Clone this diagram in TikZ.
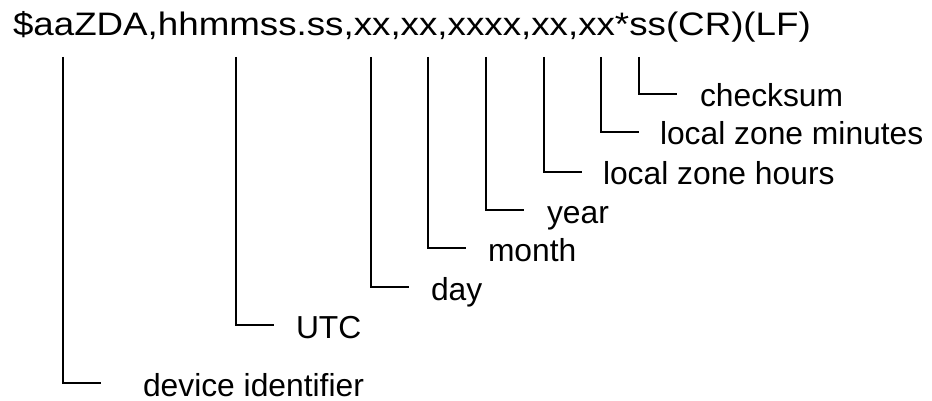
\documentclass[tikz,border=0pt]{standalone}
\usepackage{fontspec}
\setmainfont{Liberation Sans}
\newfontfamily\titlefont[FakeStretch=1.13]{Liberation Sans}
\begin{document}
\begin{tikzpicture}[x=1pt,y=-1pt,line width=2pt,
    lbl/.style={anchor=west,inner sep=0pt,text height=26pt,text depth=0pt,
      font=\fontsize{31.8}{38}\selectfont}]
    \useasboundingbox (0,0) rectangle (932,401);
    \node[anchor=base west,inner sep=0pt,font=\titlefont\fontsize{32.5}{39}\selectfont]
      (sentence) at (12,36) {\$aaZDA,hhmmss.ss,xx,xx,xxxx,xx,xx*ss(CR)(LF)};
    % one leg per field: name / x of leg / y of label / offset of text
    \foreach \nm/\x/\y/\dx/\txt in {dev/63/383/79/device identifier,
        utc/236/325/59/UTC, day/371/287/59/day, month/428/248/59/month,
        year/486/210/60/year, hours/544/172/58/local zone hours,
        mins/601/132/58/local zone minutes, chk/639/94/60/checksum} {
      \pgfmathsetmacro\gap{\dx-38}
      \coordinate (\nm-top) at (\x,57);
      \node[lbl] (\nm) at (\x+\dx,\y) {\txt};
      \draw[shorten >=\gap pt] (\nm-top) |- (\nm.west);
    }
  \end{tikzpicture}
\end{document}
